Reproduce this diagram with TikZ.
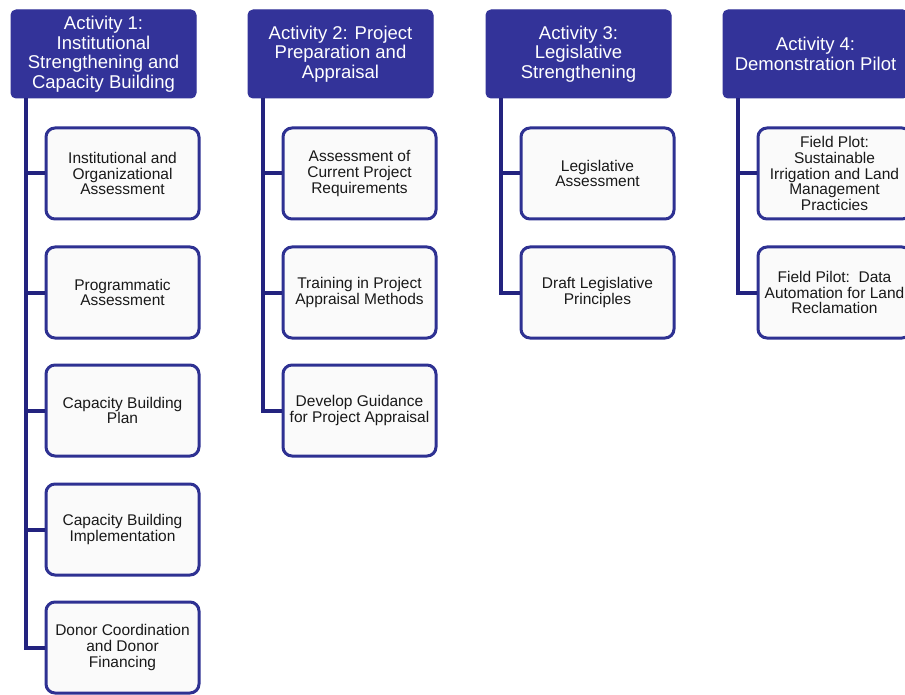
\documentclass[tikz,border=0pt]{standalone}
\usepackage{fontspec}
\setmainfont{Liberation Sans}
\definecolor{hdr}{HTML}{333399}
\definecolor{cbd}{HTML}{2E3192}
\definecolor{ln}{HTML}{23237F}
\definecolor{cfill}{HTML}{FAFAFA}
\begin{document}
\begin{tikzpicture}[x=1pt,y=-1pt,
  hdrbox/.style={draw=hdr, fill=hdr, rounded corners=5pt, minimum width=185pt, minimum height=88pt,
    align=center, text=white, font=\fontsize{18.5}{19.5}\selectfont, anchor=north west, inner sep=0pt, line width=1pt},
  childbox/.style={draw=cbd, fill=cfill, line width=3pt, rounded corners=9pt, minimum width=153pt, minimum height=91pt,
    align=center, text=black!90, font=\fontsize{15.5}{15.8}\selectfont, anchor=north west, inner sep=0pt},
  conn/.style={draw=ln, line width=4pt, line join=miter}]
\useasboundingbox (0,0) rectangle (905,695);
\clip (0,0) rectangle (905,695);
\fill[white] (0,0) rectangle (905,695);

% headers
\node[hdrbox] (h1) at (10.5,9.5) {Activity 1:\\Institutional\\Strengthening and\\Capacity Building};
\node[hdrbox] (h2) at (247.5,9.5) {Activity 2: Project\\Preparation and\\Appraisal};
\node[hdrbox] (h3) at (485.5,9.5) {Activity 3:\\Legislative\\Strengthening};
\node[hdrbox] (h4) at (722.5,9.5) {Activity 4:\\Demonstration Pilot};

% column 1
\node[childbox] (c11) at (44.5,126.5) {Institutional and\\Organizational\\Assessment};
\node[childbox] (c12) at (44.5,245.5) {Programmatic\\Assessment};
\node[childbox] (c13) at (44.5,363.5) {Capacity Building\\Plan};
\node[childbox] (c14) at (44.5,482.5) {Capacity Building\\Implementation};
\node[childbox] (c15) at (44.5,600.5) {Donor Coordination\\and Donor\\Financing};

% column 2
\node[childbox] (c21) at (281.5,126.5) {Assessment of\\Current Project\\Requirements};
\node[childbox] (c22) at (281.5,245.5) {Training in Project\\Appraisal Methods};
\node[childbox] (c23) at (281.5,363.5) {Develop Guidance\\for Project Appraisal};

% column 3
\node[childbox] (c31) at (519.5,126.5) {Legislative\\Assessment};
\node[childbox] (c32) at (519.5,245.5) {Draft Legislative\\Principles};

% column 4
\node[childbox] (c41) at (756.5,126.5) {Field Plot:\\Sustainable\\Irrigation and Land\\Management\\Practicies};
\node[childbox] (c42) at (756.5,245.5) {Field Pilot:\ \ Data\\Automation for Land\\Reclamation};

% trunks
\coordinate (t1) at ([xshift=15.5pt]h1.south west);
\coordinate (t2) at ([xshift=15.5pt]h2.south west);
\coordinate (t3) at ([xshift=15.5pt]h3.south west);
\coordinate (t4) at ([xshift=15.5pt]h4.south west);

\foreach \c in {c11,c12,c13,c14,c15} \draw[conn] (t1) |- (\c.west);
\foreach \c in {c21,c22,c23} \draw[conn] (t2) |- (\c.west);
\foreach \c in {c31,c32} \draw[conn] (t3) |- (\c.west);
\foreach \c in {c41,c42} \draw[conn] (t4) |- (\c.west);
\end{tikzpicture}
\end{document}
